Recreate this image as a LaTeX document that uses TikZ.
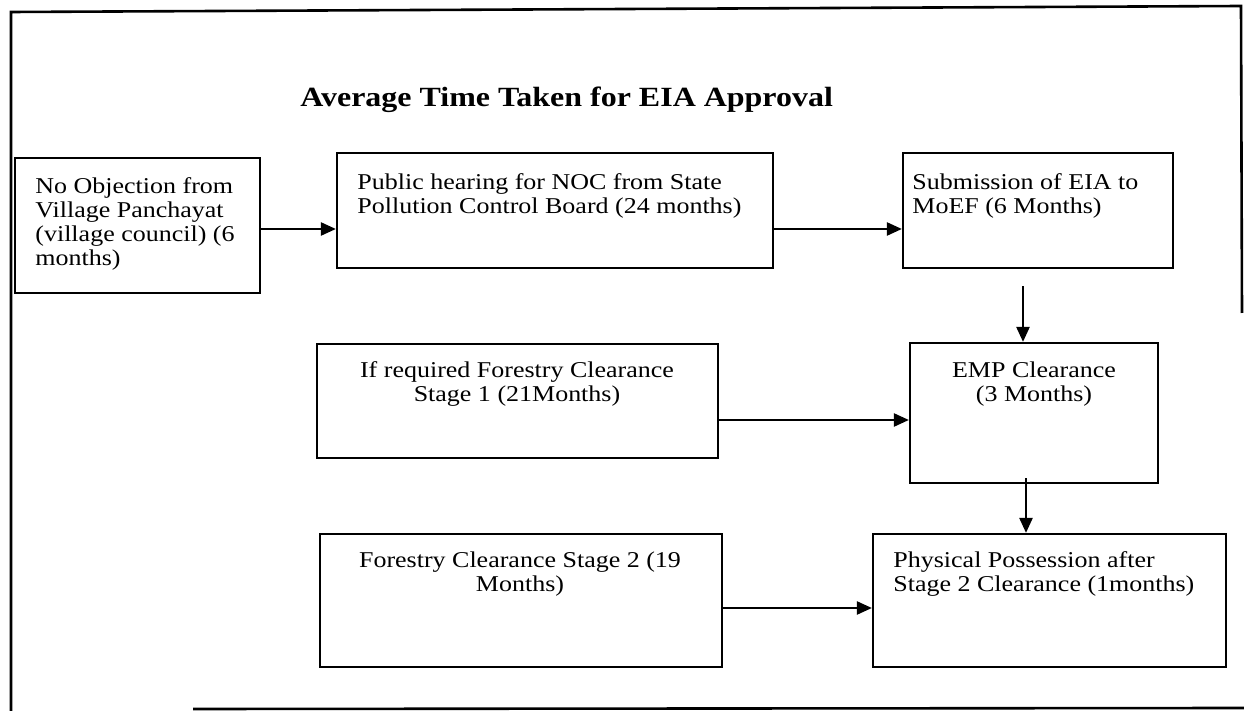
\documentclass[tikz,border=0pt]{standalone}
\usepackage{fontspec}
\setmainfont[FakeStretch=1.15]{Liberation Serif}
\usetikzlibrary{arrows.meta,fit}

\tikzset{
  frameline/.style={line width=1.3pt},
  box/.style={draw, line width=1.1pt, inner sep=0pt, rectangle},
  txt/.style={inner sep=0pt, font=\fontsize{11.3}{12}\selectfont},
  ltxt/.style={txt, align=left, anchor=north west},
  ctxt/.style={txt, align=center, anchor=north},
  titletxt/.style={inner sep=0pt, anchor=base west, font=\fontsize{13.9}{15}\selectfont\bfseries},
  arr/.style={line width=1.2pt, -{Triangle[length=7.5pt,width=6.5pt]}}
}

\begin{document}
\begin{tikzpicture}[x=0.5pt,y=-0.5pt]
\useasboundingbox (0,0) rectangle (1244,711);

% outer frame (open at the lower left)
\draw[frameline] (11,711) -- (11,12) -- (1241,6) -- (1242,313);
\draw[frameline] (193,709) -- (1244,708);

% title
\node[titletxt] (title) at (300,107) {Average Time Taken for EIA Approval};

% boxes
\node[box, fit={(15,158) (260,293)}] (A) {};
\node[box, fit={(337,153) (773,268)}] (B) {};
\node[box, fit={(903,153) (1173,268)}] (C) {};
\node[box, fit={(910,343) (1158,483)}] (D) {};
\node[box, fit={(317,344) (718,458)}] (E) {};
\node[box, fit={(320,534) (722,667)}] (F) {};
\node[box, fit={(873,534) (1226,667)}] (G) {};

% box texts
\node[ltxt] (At) at (35,177) {No Objection from\\Village Panchayat\\(village council) (6\\months)};
\node[ltxt] (Bt) at (357,173) {Public hearing for NOC from State\\Pollution Control Board (24 months)};
\node[ltxt] (Ct) at (912,173) {Submission of EIA to\\MoEF (6 Months)};
\node[ctxt] (Dt) at (1034,361) {EMP Clearance\\(3 Months)};
\node[ctxt] (Et) at (517,361) {If required Forestry Clearance\\Stage 1 (21Months)};
\node[ctxt] (Ft) at (520,551) {Forestry Clearance Stage 2 (19\\Months)};
\node[ltxt] (Gt) at (893,551) {Physical Possession after\\Stage 2 Clearance (1months)};

% connector levels
\coordinate (row1) at (0,229);
\coordinate (row2) at (0,420);
\coordinate (row3) at (0,608);
\coordinate (colCD) at (1023,0);
\coordinate (colDG) at (1026,0);

% connectors
\draw[arr] (A.east |- row1) -- (B.west |- row1);
\draw[arr] (B.east |- row1) -- (C.west |- row1);
\draw[arr] (C.south -| colCD) ++(0,17) -- (D.north -| colCD);
\draw[arr] (E.east |- row2) -- (D.west |- row2);
\draw[arr] (D.south -| colDG) ++(0,-6) -- (G.north -| colDG);
\draw[arr] (F.east |- row3) -- (G.west |- row3);
\end{tikzpicture}
\end{document}
